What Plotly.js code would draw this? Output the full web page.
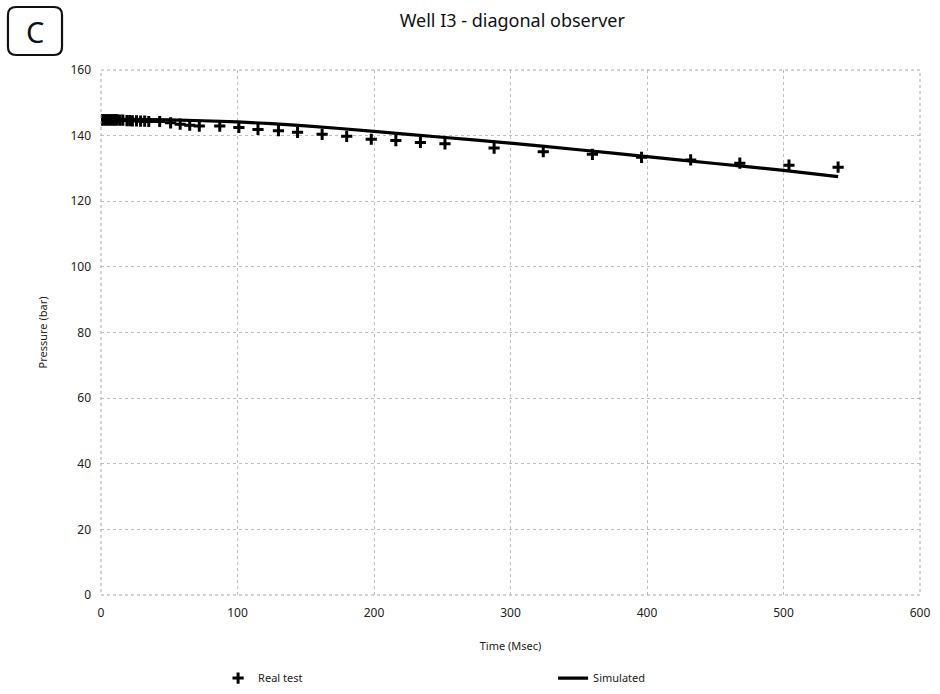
<!DOCTYPE html>
<html>
<head>
<meta charset="utf-8">
<script src="https://cdn.plot.ly/plotly-3.0.1.min.js"></script>
<style>html,body{margin:0;padding:0;background:#fff;}#chart{width:940px;height:694px;}</style>
</head>
<body>
<div id="chart"></div>
<script>
// Real test measurements
const realTime = [0,1,2,3,4,5,6,7,8,9,10,11,12,14,16,19,21,23,26,29,32,35,43,51,58,65,72,87,101,115,130,144,162,180,198,216,234,252,288,324,360,396,432,468,504,540];
const realPressure = [144.8,144.8,144.8,144.8,144.8,144.8,144.8,144.8,144.8,144.8,144.8,144.8,144.8,144.7,144.7,144.6,144.6,144.5,144.5,144.4,144.4,144.3,144.3,143.9,143.5,143.2,142.9,142.9,142.5,141.9,141.5,141.0,140.4,139.8,138.9,138.5,137.9,137.5,136.2,135.1,134.3,133.4,132.6,131.6,131.0,130.4];
// Simulated curve
const simTime = [0,50,100,150,200,250,300,350,400,450,500,540];
const simPressure = [145.0,144.8,144.2,143.0,141.3,139.5,137.7,135.7,133.6,131.5,129.4,127.5];
// Labels
const chartTitle = "Well I3 - diagonal observer";
const xTitle = "Time (Msec)";
const yTitle = "Pressure (bar)";
const panelLabel = "C";

const font = "'Noto Sans', 'Open Sans', sans-serif";

const traces = [
  {x: realTime, y: realPressure, type: 'scatter', mode: 'markers', name: 'Real test',
   marker: {symbol: 'cross-thin', size: 8, color: '#000', line: {color: '#000', width: 3}}},
  {x: simTime, y: simPressure, type: 'scatter', mode: 'lines', name: 'Simulated',
   line: {color: '#000', width: 3.2, shape: 'spline', smoothing: 0.6}}
];

const layout = {
  width: 940, height: 694,
  margin: {l: 101, r: 20, t: 70, b: 99, autoexpand: false},
  paper_bgcolor: '#fff', plot_bgcolor: '#fff',
  font: {family: font, color: '#222', size: 11},
  title: {text: chartTitle, x: 0.545, xanchor: 'center', y: 0.97, yanchor: 'middle',
          font: {family: font, size: 18, color: '#111'}},
  xaxis: {range: [0, 600], dtick: 100, tick0: 0, showgrid: true, gridcolor: '#bdbdbd', griddash: 'dot', gridwidth: 1,
          zeroline: false, showline: false, ticks: '', ticklabelstandoff: 9, tickfont: {size: 12, color: '#222'},
          automargin: false,
          title: {text: xTitle, font: {size: 11, color: '#222'}, standoff: 22}},
  yaxis: {range: [0, 160], dtick: 20, tick0: 0, showgrid: true, gridcolor: '#bdbdbd', griddash: 'dot', gridwidth: 1,
          zeroline: false, showline: false, ticks: '', ticklabelstandoff: 9, tickfont: {size: 12, color: '#222'},
          automargin: false,
          title: {text: yTitle, font: {size: 11, color: '#222'}, standoff: 20}},
  showlegend: true,
  legend: {orientation: 'h', x: 0.552, xanchor: 'center', yref: 'container', y: 0.023, yanchor: 'middle',
           font: {size: 11, color: '#222'}, itemwidth: 30, tracegroupgap: 0, entrywidth: 290, entrywidthmode: 'pixels'},
  shapes: [
    {type: 'rect', xref: 'paper', yref: 'paper', x0: 0, x1: 1, y0: 0, y1: 1,
     line: {color: '#a8a8a8', width: 1, dash: 'dot'}},
    {type: 'path', xref: 'paper', yref: 'paper', layer: 'above',
     path: 'M -0.1038 1.12 L -0.0574 1.12 Q -0.0476 1.12 -0.0476 1.105 L -0.0476 1.0438 Q -0.0476 1.0286 -0.0574 1.0286 L -0.1038 1.0286 Q -0.1136 1.0286 -0.1136 1.0438 L -0.1136 1.105 Q -0.1136 1.12 -0.1038 1.12 Z',
     line: {color: '#111', width: 2.2}}
  ],
  annotations: [
    {text: panelLabel, xref: 'paper', yref: 'paper', x: -0.0806, y: 1.074, xanchor: 'center', yanchor: 'middle',
     showarrow: false, font: {family: font, size: 29, color: '#111'}}
  ]
};

Plotly.newPlot('chart', traces, layout, {displayModeBar: false, staticPlot: true});
</script>
</body>
</html>
